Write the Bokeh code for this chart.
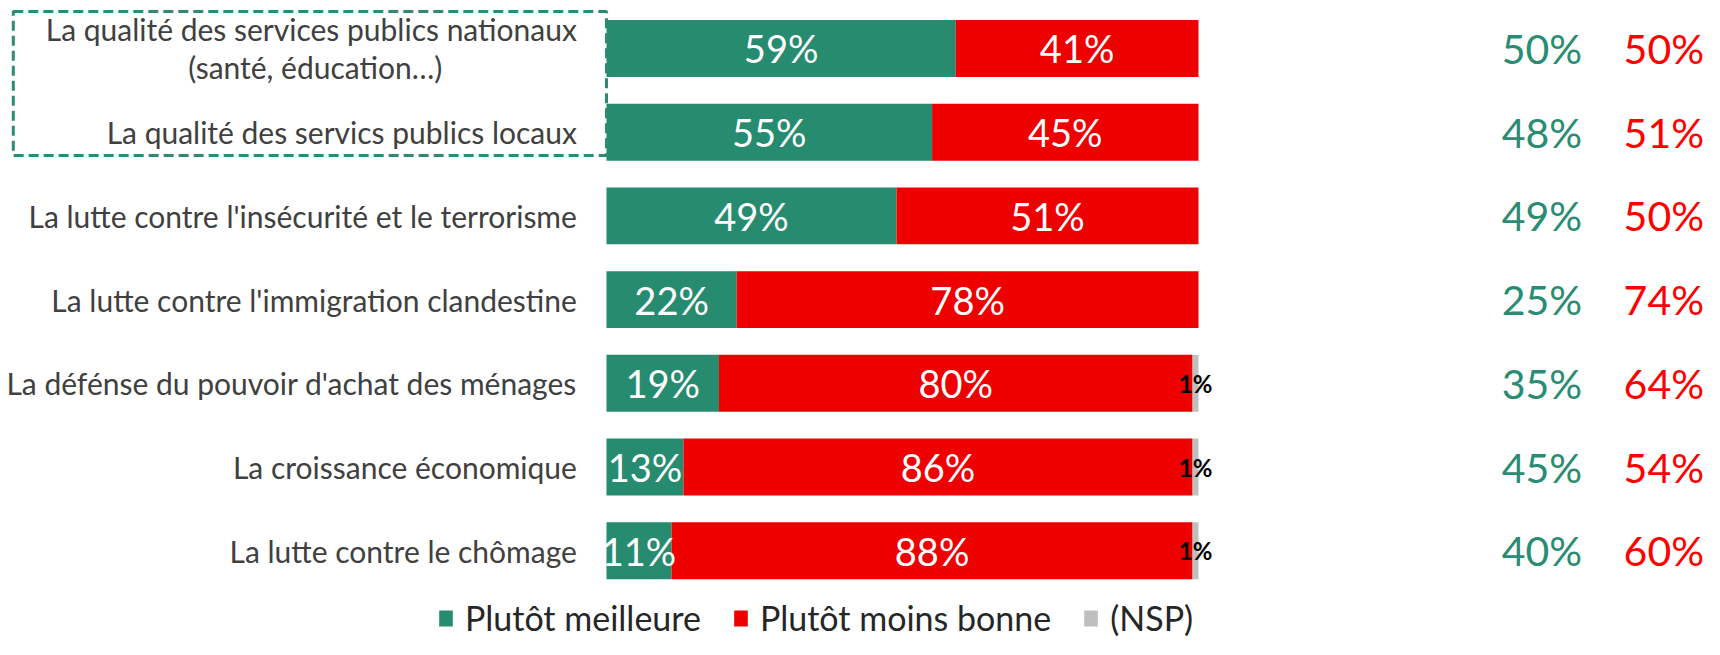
from bokeh.plotting import figure
from bokeh.models import ColumnDataSource, Range1d, Legend, LegendItem, BoxAnnotation
from bokeh.core.properties import value
from bokeh.embed import file_html
from bokeh.resources import INLINE

categories = [
    "La qualité des services publics nationaux\n(santé, éducation…)",
    "La qualité des servics publics locaux",
    "La lutte contre l'insécurité et le terrorisme",
    "La lutte contre l'immigration clandestine",
    "La défénse du pouvoir d'achat des ménages",
    "La croissance économique",
    "La lutte contre le chômage",
]
better = [59, 55, 49, 22, 19, 13, 11]
worse = [41, 45, 51, 78, 80, 86, 88]
nsp = [0, 0, 0, 0, 1, 1, 1]
better_prev = [50, 48, 49, 25, 35, 45, 40]
worse_prev = [50, 51, 50, 74, 64, 54, 60]
series_names = ["Plutôt meilleure", "Plutôt moins bonne", "(NSP)"]

GREEN = "#268B6F"
RED = "#EE0000"
GREY = "#BFBFBF"
FONT = "Lato"

W, H = 1704, 639
n = len(categories)
ys = list(range(n))

p = figure(width=W, height=H, output_backend="svg", toolbar_location=None,
           x_range=Range1d(-102.36, 185.47), y_range=Range1d(7.06, -0.573),
           min_border=0, min_border_left=0, min_border_right=0,
           min_border_top=0, min_border_bottom=0)
p.axis.visible = False
p.grid.visible = False
p.outline_line_color = None

src = ColumnDataSource(dict(
    y=ys, better=better, worse=worse, nsp=nsp,
    b_pos=[b / 2 for b in better],
    w_pos=[b + w / 2 for b, w in zip(better, worse)],
    n_pos=[b + w + s / 2 for b, w, s in zip(better, worse, nsp)],
    b_lab=[f"{v}%" for v in better],
    w_lab=[f"{v}%" for v in worse],
    n_lab=[f"{v}%" if v > 0 else "" for v in nsp],
    bp_lab=[f"{v}%" for v in better_prev],
    wp_lab=[f"{v}%" for v in worse_prev],
))

rs = p.hbar_stack(["better", "worse", "nsp"], y="y", height=0.68,
                  color=[GREEN, RED, GREY], line_color=None, source=src)

p.text(x="b_pos", y="y", text="b_lab", source=src, text_color="white",
       text_font=value(FONT), text_font_size="38px",
       text_align="center", text_baseline="middle")
p.text(x="w_pos", y="y", text="w_lab", source=src, text_color="white",
       text_font=value(FONT), text_font_size="38px",
       text_align="center", text_baseline="middle")
p.text(x="n_pos", y="y", text="n_lab", source=src, text_color="black",
       text_font=value(FONT), text_font_size="24px", text_font_style="bold",
       text_align="center", text_baseline="middle")

# previous-wave columns on the right
p.text(x=158.0, y="y", text="bp_lab", source=src, text_color="#2A8C72",
       text_font=value(FONT), text_font_size="41px",
       text_align="center", text_baseline="middle")
p.text(x=178.6, y="y", text="wp_lab", source=src, text_color="#FF0000",
       text_font=value(FONT), text_font_size="41px",
       text_align="center", text_baseline="middle")

# category labels
single_y, single_t = [], []
for i, c in enumerate(categories):
    if "\n" in c:
        l1, l2 = c.split("\n")
        p.text(x=[-5], y=[i - 0.227], text=[l1], text_color="#404040",
               text_font=value(FONT), text_font_size="30px",
               text_align="right", text_baseline="middle")
        p.text(x=[-49.2], y=[i + 0.227], text=[l2], text_color="#404040",
               text_font=value(FONT), text_font_size="30px",
               text_align="center", text_baseline="middle")
    else:
        single_y.append(i)
        single_t.append(c)
p.text(x=-5, y=single_y, text=single_t, text_color="#404040",
       text_font=value(FONT), text_font_size="30px",
       text_align="right", text_baseline="middle")

# dashed highlight box around first two labels
box = BoxAnnotation(left=-100.2, right=0, top=-0.442, bottom=1.278,
                    fill_color=None, fill_alpha=0, line_color="#2A8C72",
                    line_alpha=1.0, line_width=3, line_dash="10 5")
p.add_layout(box)

legend = Legend(items=[LegendItem(label=series_names[k], renderers=[rs[k]]) for k in range(3)],
                orientation="horizontal", location=(437, 1),
                label_text_font=FONT, label_text_font_size="34px",
                label_text_color="#262626",
                glyph_width=17, glyph_height=20, label_standoff=11,
                spacing=31, padding=0, margin=0,
                border_line_color=None, background_fill_alpha=0)
p.add_layout(legend, "center")

open("out.html", "w").write(file_html(p, INLINE))
